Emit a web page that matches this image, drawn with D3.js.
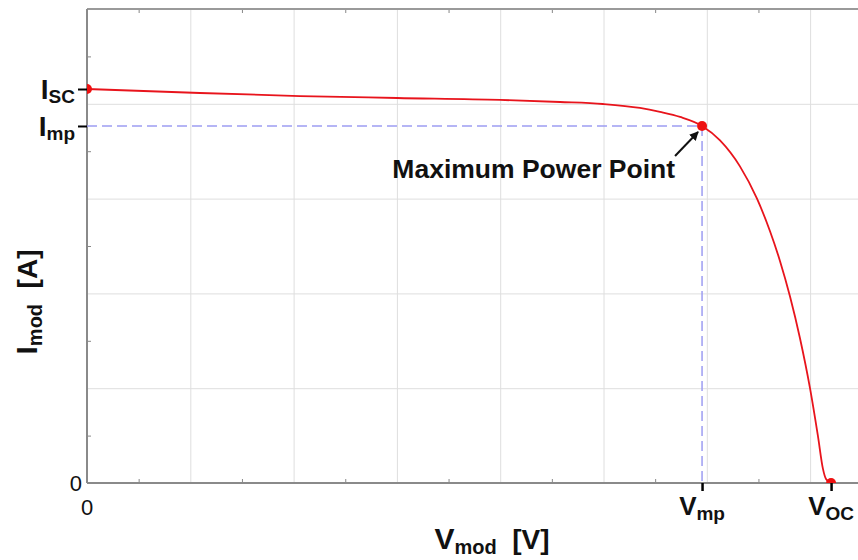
<!DOCTYPE html>
<html>
<head>
<meta charset="utf-8">
<script src="https://cdn.jsdelivr.net/npm/d3@7"></script>
<style>
  body { margin: 0; background: #fff; }
  svg { display: block; font-family: "Liberation Sans", Arial, sans-serif; }
</style>
</head>
<body>
<div id="chart"></div>
<script>
// I-V curve of a PV module (grid units)
var voltage = [0, 1.094, 2.062, 3.001, 3.998, 4.579, 4.995, 5.353, 5.547, 5.741, 5.954,
  6.128, 6.321, 6.486, 6.612, 6.709, 6.805, 6.902, 6.999, 7.076, 7.125, 7.154, 7.203];
var current = [4.156, 4.114, 4.082, 4.061, 4.041, 4.019, 3.998, 3.956, 3.914, 3.861, 3.766,
  3.614, 3.340, 2.999, 2.656, 2.340, 1.970, 1.527, 1.000, 0.494, 0.146, 0.042, 0];

var vmp = 5.954;
var imp = 3.766;
var isc = 4.156;
var voc = 7.203;

// tick labels
var xTickValues = [0, vmp, voc];
var xTickMain = ["0", "V", "V"];
var xTickSub = ["", "mp", "OC"];
var yTickValues = [0, imp, isc];
var yTickMain = ["0", "I", "I"];
var yTickSub = ["", "mp", "SC"];

var svgWidth = 858;
var svgHeight = 560;

var margin = {
  top: 9,
  right: 0,
  bottom: 77,
  left: 87
};

var width = svgWidth - margin.left - margin.right;
var height = svgHeight - margin.top - margin.bottom;

var svg = d3.select("#chart")
  .append("svg")
  .attr("width", svgWidth)
  .attr("height", svgHeight);

var chartGroup = svg.append("g")
  .attr("transform", `translate(${margin.left}, ${margin.top})`);

// one grid step is ~103px wide, ~95px tall
var xScale = d3.scaleLinear()
  .domain([0, width / 103.3])
  .range([0, width]);

var yScale = d3.scaleLinear()
  .domain([0, 5])
  .range([height, 0]);

var defs = svg.append("defs");

defs.append("clipPath")
  .attr("id", "plotClip")
  .append("rect")
  .attr("x", 0)
  .attr("y", 0)
  .attr("width", width)
  .attr("height", height);

defs.append("marker")
  .attr("id", "arrowHead")
  .attr("viewBox", "0 0 10 10")
  .attr("refX", 9)
  .attr("refY", 5)
  .attr("markerWidth", 9)
  .attr("markerHeight", 9)
  .attr("markerUnits", "userSpaceOnUse")
  .attr("orient", "auto")
  .append("path")
  .attr("d", "M0,0 L10,5 L0,10 Z")
  .attr("fill", "#111");

// gridlines
chartGroup.append("g")
  .attr("class", "grid")
  .attr("transform", `translate(0, ${height})`)
  .call(d3.axisBottom(xScale)
    .tickValues(d3.range(1, 8))
    .tickSize(-height)
    .tickFormat(""));

chartGroup.append("g")
  .attr("class", "grid")
  .call(d3.axisLeft(yScale)
    .tickValues(d3.range(1, 5))
    .tickSize(-width)
    .tickFormat(""));

chartGroup.selectAll(".grid line")
  .attr("stroke", "#dedede")
  .attr("stroke-width", 1);
chartGroup.selectAll(".grid .domain").remove();

// minor ticks (inside)
var minorX = d3.range(0.5, 7.5, 1);
var minorY = d3.range(0.5, 5, 1);

chartGroup.append("g")
  .attr("class", "minor")
  .attr("transform", `translate(0, ${height})`)
  .call(d3.axisBottom(xScale).tickValues(minorX).tickSize(-4).tickFormat(""));

chartGroup.append("g")
  .attr("class", "minor")
  .call(d3.axisTop(xScale).tickValues(minorX).tickSize(-4).tickFormat(""));

chartGroup.append("g")
  .attr("class", "minor")
  .call(d3.axisLeft(yScale).tickValues(minorY).tickSize(-4).tickFormat(""));

chartGroup.selectAll(".minor .domain").remove();
chartGroup.selectAll(".minor line").attr("stroke", "#888").attr("stroke-width", 1);

// frame
chartGroup.append("line")
  .attr("x1", 0).attr("x2", width)
  .attr("y1", 0).attr("y2", 0)
  .attr("stroke", "#9a9a9a")
  .attr("stroke-width", 2);

chartGroup.append("line")
  .attr("x1", 0).attr("x2", width)
  .attr("y1", height).attr("y2", height)
  .attr("stroke", "#8a8a8a")
  .attr("stroke-width", 2);

chartGroup.append("line")
  .attr("x1", 0).attr("x2", 0)
  .attr("y1", 0).attr("y2", height)
  .attr("stroke", "#8a8a8a")
  .attr("stroke-width", 2);

// dashed lines to the maximum power point
chartGroup.append("path")
  .attr("d", `M${xScale(0)},${yScale(imp)} H${xScale(vmp)} V${yScale(0)}`)
  .attr("fill", "none")
  .attr("stroke", "#9d9df2")
  .attr("stroke-width", 1.5)
  .attr("stroke-dasharray", "10,5");

// the curve
var plot = chartGroup.append("g")
  .attr("clip-path", "url(#plotClip)");

var ivData = voltage.map(function(v, i) {
  return { v: v, i: current[i] };
});

var line = d3.line()
  .x(d => xScale(d.v))
  .y(d => yScale(d.i))
  .curve(d3.curveMonotoneX);

plot.append("path")
  .datum(ivData)
  .attr("d", line)
  .attr("fill", "none")
  .attr("stroke", "#e8141c")
  .attr("stroke-width", 1.8);

var points = [
  { v: 0, i: isc },
  { v: vmp, i: imp },
  { v: voc, i: 0 }
];

plot.selectAll("circle")
  .data(points)
  .enter()
  .append("circle")
  .attr("cx", d => xScale(d.v))
  .attr("cy", d => yScale(d.i))
  .attr("r", 5)
  .attr("fill", "#ee1111");

// symbolic ticks
var xTicks = chartGroup.append("g")
  .attr("transform", `translate(0, ${height})`)
  .call(d3.axisBottom(xScale).tickValues(xTickValues.slice(1)).tickSize(8).tickFormat(""));
xTicks.select(".domain").remove();
xTicks.selectAll("line").attr("stroke", "#000").attr("stroke-width", 2.5);

var yTicks = chartGroup.append("g")
  .call(d3.axisLeft(yScale).tickValues(yTickValues.slice(1)).tickSize(9).tickFormat(""));
yTicks.select(".domain").remove();
yTicks.selectAll("line").attr("stroke", "#000").attr("stroke-width", 2);

// x tick labels
xTickValues.forEach(function(v, k) {
  var t = chartGroup.append("text")
    .attr("x", xScale(v))
    .attr("y", height + 32)
    .attr("text-anchor", "middle")
    .attr("fill", "#111");
  if (k === 0) {
    t.attr("font-size", 22).text(xTickMain[k]);
  } else {
    t.attr("font-weight", "bold");
    t.append("tspan").attr("font-size", 26).text(xTickMain[k]);
    t.append("tspan").attr("font-size", 19).attr("dy", 5).text(xTickSub[k]);
  }
});

// y tick labels
yTickValues.forEach(function(v, k) {
  var t = chartGroup.append("text")
    .attr("x", k === 0 ? -5 : -12)
    .attr("y", yScale(v) + (k === 0 ? 8 : 10))
    .attr("text-anchor", "end")
    .attr("fill", "#111");
  if (k === 0) {
    t.attr("font-size", 22).text(yTickMain[k]);
  } else {
    t.attr("font-weight", "bold");
    t.append("tspan").attr("font-size", 28).text(yTickMain[k]);
    t.append("tspan").attr("font-size", 19).attr("dy", 4).text(yTickSub[k]);
  }
});

// annotation
chartGroup.append("line")
  .attr("x1", xScale(vmp) - 27)
  .attr("y1", yScale(imp) + 30)
  .attr("x2", xScale(vmp) - 4)
  .attr("y2", yScale(imp) + 6)
  .attr("stroke", "#111")
  .attr("stroke-width", 2)
  .attr("marker-end", "url(#arrowHead)");

chartGroup.append("text")
  .attr("x", xScale(vmp) - 27)
  .attr("y", yScale(imp) + 52)
  .attr("text-anchor", "end")
  .attr("font-size", 26.5)
  .attr("font-weight", "bold")
  .attr("fill", "#111")
  .text("Maximum Power Point");

// axis titles
var xTitle = svg.append("text")
  .attr("x", 492)
  .attr("y", 549)
  .attr("text-anchor", "middle")
  .attr("font-weight", "bold")
  .attr("fill", "#111");
xTitle.append("tspan").attr("font-size", 30).text("V");
xTitle.append("tspan").attr("font-size", 20).attr("dy", 5).text("mod");
xTitle.append("tspan").attr("font-size", 28).attr("dy", -5).text("\u00a0\u00a0[V]");

var yTitle = svg.append("text")
  .attr("transform", "translate(37, 302) rotate(-90)")
  .attr("text-anchor", "middle")
  .attr("font-weight", "bold")
  .attr("fill", "#111");
yTitle.append("tspan").attr("font-size", 30).text("I");
yTitle.append("tspan").attr("font-size", 20).attr("dy", 5).text("mod");
yTitle.append("tspan").attr("font-size", 28).attr("dy", -5).text("\u00a0\u00a0[A]");
</script>
</body>
</html>
